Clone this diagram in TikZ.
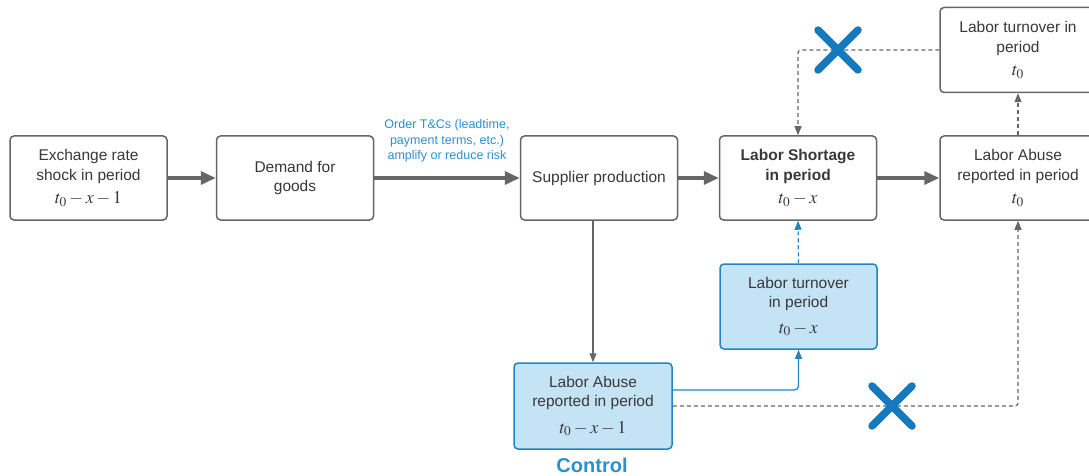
\documentclass[tikz,border=0pt]{standalone}
\usepackage{mathptmx}
\usepackage{fontspec}
\setmainfont{Liberation Sans}
\usetikzlibrary{arrows.meta,calc}
\definecolor{lgray}{HTML}{666666}
\definecolor{tgray}{HTML}{383838}
\definecolor{bfill}{HTML}{C4E3F5}
\definecolor{bline}{HTML}{2384C4}
\definecolor{btext}{HTML}{2A90D0}
\definecolor{xblue}{HTML}{1479BD}
\newcommand{\mm}[1]{{\fontsize{18}{20}\selectfont$#1$}}
\begin{document}
\begin{tikzpicture}[x=1pt,y=-1pt,
  box/.style={draw=lgray,line width=1.5pt,rounded corners=4pt,fill=white,
    minimum width=157pt,minimum height=84pt,align=center,text=tgray,
    font=\fontsize{15.5}{19.5}\selectfont,inner sep=2pt},
  bbox/.style={box,draw=bline,fill=bfill},
  thick arrow/.style={draw=lgray,line width=3.5pt,-{Triangle[length=15pt,width=13pt]}},
  thin arrow/.style={draw=lgray,line width=1.2pt,-{Triangle[length=9pt,width=7pt]}},
  dash arrow/.style={thin arrow,dash pattern=on 4pt off 3pt},
  xmark/.style={draw=xblue,line width=7.5pt,line cap=round}
]
\useasboundingbox (0,0) rectangle (1089,476);
\node[box] (ex) at (88.5,178) {Exchange rate\\shock in period\\[4pt]\mm{t_0-x-1}};
\node[box] (dem) at (295,178) {Demand for\\goods};
\node[box] (sup) at (599,178) {Supplier production};
\node[box] (short) at (798,178) {\textbf{Labor Shortage}\\\textbf{in period}\\[4pt]\mm{t_0-x}};
\node[box,minimum width=156pt] (abuse) at (1018,178) {Labor Abuse\\reported in period\\[4pt]\mm{t_0}};
\node[box,minimum width=156pt,minimum height=85pt] (turn0) at (1018,50) {Labor turnover in\\period\\[4pt]\mm{t_0}};
\node[bbox,minimum height=85pt] (turnx) at (798.5,306.5) {Labor turnover\\in period\\[6pt]\mm{t_0-x}};
\node[bbox,minimum width=158pt,minimum height=86pt] (abx) at (593,406) {Labor Abuse\\reported in period\\[7pt]\mm{t_0-x-1}};
\node[text=btext,font=\bfseries\fontsize{20}{22}\selectfont] (ctrl) at (592,465) {Control};
\node[text=btext,align=center,font=\fontsize{12.5}{15.5}\selectfont] (tc) at (447,141) {Order T\&Cs (leadtime,\\payment terms, etc.)\\amplify or reduce risk};
% thick arrows
\draw[thick arrow] (ex.east) -- (dem.west);
\draw[thick arrow] (dem.east) -- (sup.west);
\draw[thick arrow] (sup.east) -- (short.west);
\draw[thick arrow] (short.east) -- (abuse.west);
% supplier to control
\draw[thin arrow] (abx.north |- sup.south) -- (abx.north);
% control to turnover (blue solid)
\coordinate (c1) at ($(abx.east)+(0,-16)$);
\draw[thin arrow,draw=bline,rounded corners=4pt] (c1) -- (c1 -| turnx.south) -- (turnx.south);
% turnover t0-x to shortage (blue dashed)
\draw[dash arrow,draw=bline] (turnx.north) -- (short.south);
% control to abuse t0 (gray dashed)
\draw[dash arrow,rounded corners=3pt] (abx.east) -- (abx.east -| abuse.south) -- (abuse.south);
% abuse to turnover t0
\draw[dash arrow] (abuse.north) -- (turn0.south);
% turnover t0 to shortage
\draw[dash arrow,rounded corners=3pt] (turn0.west) -- (turn0.west -| short.north) -- (short.north);
% X marks
\coordinate (x1) at (838,50);
\coordinate (x2) at (892,406);
\draw[xmark] ($(x1)+(-20,-20)$) -- ($(x1)+(20,20)$);
\draw[xmark] ($(x1)+(-20,20)$) -- ($(x1)+(20,-20)$);
\draw[xmark] ($(x2)+(-20,-20)$) -- ($(x2)+(20,20)$);
\draw[xmark] ($(x2)+(-20,20)$) -- ($(x2)+(20,-20)$);
\end{tikzpicture}
\end{document}
